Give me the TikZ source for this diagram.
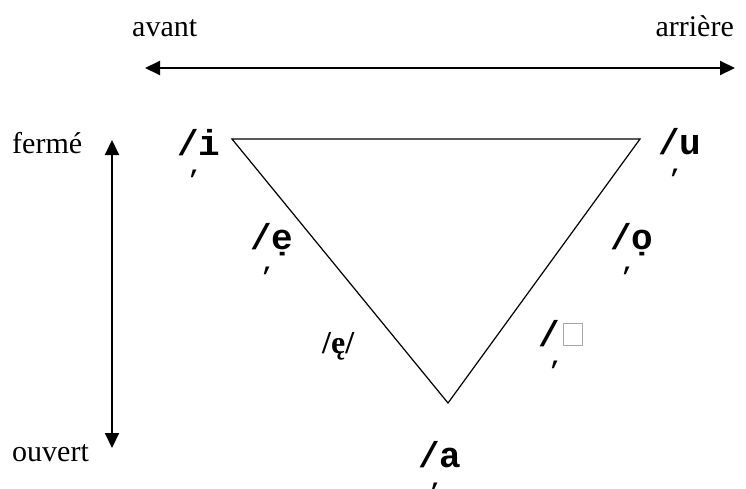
\documentclass[tikz,border=0pt]{standalone}
\usepackage{fontspec}
\setmainfont{Liberation Serif}
\setmonofont{Liberation Mono}
\usetikzlibrary{arrows.meta}
\tikzset{
  serif/.style={inner sep=0pt, font=\fontsize{30}{36}\selectfont},
  mono/.style={inner sep=0pt, font=\fontsize{36}{42}\selectfont\ttfamily\bfseries},
  commamark/.style={inner sep=0pt, font=\fontsize{24}{30}\selectfont\ttfamily\bfseries},
  axis/.style={line width=2pt, {Triangle[length=15pt,width=14pt]}-{Triangle[length=15pt,width=14pt]}},
  edge/.style={line width=1.2pt, line join=miter}
}
\begin{document}
\begin{tikzpicture}[x=1pt,y=-1pt]
\useasboundingbox (0,0) rectangle (746,488);
% axis labels
\node[serif, anchor=base west] (avant) at (132,36) {avant};
\node[serif, anchor=base east] (arriere) at (734,36) {arrière};
\node[serif, anchor=base west] (ferme) at (12,153) {fermé};
\node[serif, anchor=base west] (ouvert) at (12,461) {ouvert};
% axes
\coordinate (hl) at (145,68);
\coordinate (hr) at (735,68);
\coordinate (vt) at (112,140);
\coordinate (vb) at (112,448);
\draw[axis] (hl) -- (hr);
\draw[axis] (vt) -- (vb);
% triangle
\coordinate (ti) at (232,139);
\coordinate (tu) at (640,139);
\coordinate (ta) at (448,403);
\draw[edge] (ti) -- (tu) -- (ta) -- cycle;
% vowel labels
\node[mono, anchor=base west] (li) at (177,155) {/i};
\node[commamark] (ci) at (195,174) {,};
\node[mono, anchor=base west] (lu) at (658,154) {/u};
\node[commamark] (cu) at (676,173) {,};
\node[mono, anchor=base west] (le) at (250,249) {/ẹ};
\node[commamark] (ce) at (268,271) {,};
\node[mono, anchor=base west] (lo) at (610,249) {/ọ};
\node[commamark] (co) at (628,271) {,};
\node[serif, font=\fontsize{32}{38}\selectfont\bfseries, anchor=base west] (leo) at (322,353) {/ę/};
\node[mono, anchor=base west] (lc) at (538,346) {/};
\node[draw=gray!70, line width=0.8pt, inner sep=0pt, minimum width=19pt, minimum height=22pt] (box) at (572.5,334) {};
\node[commamark] (cc) at (556,365) {,};
\node[mono, anchor=base west] (la) at (418,467) {/a};
\node[commamark] (ca) at (436,487) {,};
\end{tikzpicture}
\end{document}
